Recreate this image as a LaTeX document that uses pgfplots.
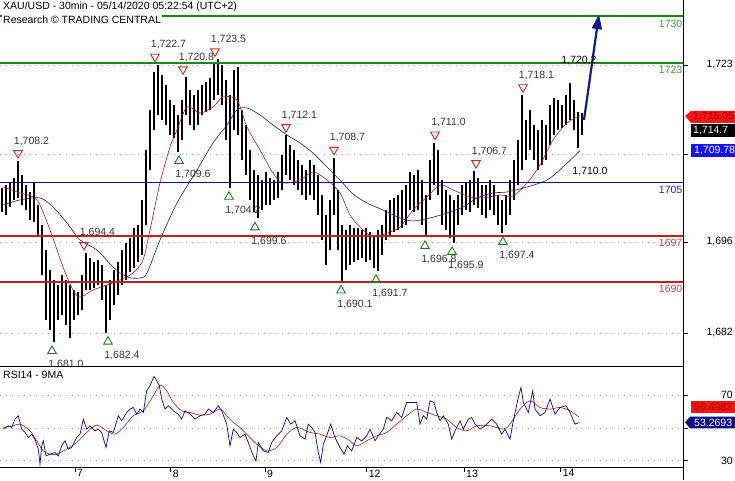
\documentclass[border=0pt]{standalone}
\usepackage{fontspec}
\setmainfont{Liberation Sans}
\usepackage{pgfplots}
\usepackage{pgfplotstable}
\pgfplotsset{compat=1.18}
\usetikzlibrary{arrows.meta}

\definecolor{lvgreen}{RGB}{20,140,20}
\definecolor{lvgreentext}{RGB}{70,150,70}
\definecolor{lvnavy}{RGB}{15,15,135}
\definecolor{lvnavytext}{RGB}{40,40,150}
\definecolor{lvred}{RGB}{185,35,35}
\definecolor{lvredtext}{RGB}{190,70,70}
\definecolor{maRed}{RGB}{170,25,25}
\definecolor{maBlue}{RGB}{25,25,125}
\definecolor{triRed}{RGB}{200,40,40}
\definecolor{triGreen}{RGB}{30,120,30}
\definecolor{tagRed}{RGB}{250,20,20}
\definecolor{tagRedText}{RGB}{150,0,0}
\definecolor{tagBlue}{RGB}{20,20,240}
\definecolor{tagNavy}{RGB}{10,10,130}
\definecolor{arrowNavy}{RGB}{15,30,130}

% 30 min bars: x in chart pixels, high / low
\pgfplotstableread{
x hi lo
2 1704.16 1700.55
6 1704.61 1700.10
10 1705.06 1701.30
14 1705.66 1702.36
18 1708.2 1702.66
22 1706.11 1701.60
26 1704.61 1700.85
30 1703.56 1699.35
34 1704.91 1699.05
38 1701.60 1697.09
42 1698.60 1691.08
46 1694.84 1684.31
50 1691.83 1682.81
54 1690.33 1681.0
58 1689.57 1684.31
62 1691.08 1685.06
66 1690.33 1683.56
70 1689.57 1681.60
74 1688.82 1684.31
78 1688.52 1685.06
82 1691.08 1685.81
86 1694.4 1688.82
90 1693.63 1688.82
94 1693.03 1689.12
98 1693.33 1689.57
102 1692.58 1687.32
106 1689.57 1682.4
110 1690.33 1684.31
114 1691.83 1686.57
118 1693.03 1688.07
122 1694.84 1689.57
126 1695.89 1690.33
130 1696.64 1691.53
134 1698.14 1692.13
138 1698.60 1693.03
142 1702.36 1694.08
146 1709.87 1698.60
150 1715.89 1706.87
154 1721.60 1712.88
158 1722.7 1715.14
162 1721.15 1714.39
166 1719.65 1713.63
170 1717.39 1712.13
174 1716.64 1711.68
178 1715.14 1709.6
182 1717.39 1711.38
186 1720.8 1715.14
190 1718.90 1713.63
194 1718.14 1712.88
198 1718.90 1713.63
202 1719.65 1715.14
206 1720.10 1715.59
210 1720.70 1715.89
214 1723.11 1717.39
218 1723.5 1718.14
222 1722.66 1716.64
226 1720.40 1711.38
230 1718.14 1704.2
234 1721.90 1712.88
238 1722.36 1712.13
242 1715.89 1708.37
246 1713.63 1706.11
250 1709.87 1702.36
254 1706.87 1700.55
258 1706.11 1699.6
262 1705.36 1700.85
266 1706.57 1701.60
270 1705.66 1701.60
274 1705.36 1702.36
278 1706.57 1702.66
282 1709.12 1703.86
286 1712.1 1706.11
290 1710.63 1705.36
294 1709.87 1704.61
298 1708.37 1703.86
302 1707.62 1703.11
306 1706.87 1702.36
310 1708.37 1703.11
314 1707.62 1702.36
318 1706.11 1700.10
322 1703.11 1696.34
326 1700.10 1692.58
330 1702.36 1694.84
334 1708.7 1700.10
338 1703.86 1694.84
342 1698.60 1690.1
346 1697.84 1691.83
350 1698.60 1692.58
354 1698.14 1693.03
358 1698.14 1693.33
362 1697.84 1693.63
366 1698.14 1693.03
370 1697.54 1693.33
374 1697.09 1692.13
378 1697.84 1691.7
382 1698.60 1694.08
386 1700.85 1696.34
390 1702.36 1697.09
394 1702.66 1697.54
398 1703.11 1697.84
402 1703.86 1698.14
406 1704.61 1698.60
410 1706.57 1700.85
414 1706.11 1700.55
418 1706.87 1700.85
422 1705.36 1698.60
426 1703.11 1696.8
430 1708.37 1702.36
434 1711.0 1704.61
438 1709.87 1703.11
442 1705.36 1698.60
446 1703.86 1697.84
450 1703.11 1696.64
454 1702.36 1695.9
458 1703.11 1698.60
462 1704.61 1700.10
466 1705.06 1700.85
470 1705.36 1700.55
474 1706.7 1701.60
478 1705.66 1701.15
482 1704.61 1700.10
486 1704.61 1699.65
490 1705.36 1700.85
494 1704.61 1700.10
498 1703.11 1698.60
502 1702.36 1697.4
506 1703.11 1698.60
510 1705.36 1700.10
514 1708.37 1702.36
518 1711.38 1704.61
522 1718.1 1706.87
526 1714.39 1708.37
530 1715.89 1709.87
534 1713.63 1708.37
538 1712.88 1706.87
542 1714.39 1707.62
546 1713.63 1708.37
550 1716.64 1710.63
554 1717.69 1712.13
558 1717.39 1712.88
562 1716.64 1713.18
566 1718.14 1713.63
570 1719.95 1714.39
574 1717.39 1712.88
578 1715.59 1710.17
582 1715.44 1712.13
}\price

\pgfplotstableread{
x y
3 1704.31
20 1703.41
37 1702.36
50 1697.84
63 1692.28
73 1688.82
80 1687.77
93 1688.82
107 1689.57
120 1690.33
133 1691.38
143 1693.33
150 1697.84
160 1704.91
170 1710.32
177 1712.88
187 1716.34
200 1715.44
213 1716.34
223 1717.84
237 1717.39
247 1713.33
260 1709.87
273 1706.41
283 1704.91
300 1705.36
313 1706.57
327 1705.36
340 1703.41
350 1700.10
360 1698.29
373 1696.79
387 1697.39
400 1698.29
413 1700.85
427 1702.81
440 1704.61
453 1703.86
470 1702.81
483 1702.66
500 1703.11
513 1702.96
527 1704.91
540 1707.62
553 1711.38
567 1713.93
580 1715.05
}\maFast

\pgfplotstableread{
x y
3 1701.60
20 1702.36
40 1702.66
53 1701.30
67 1698.90
80 1696.34
97 1694.84
113 1692.28
127 1690.78
140 1690.63
147 1691.38
160 1696.34
177 1701.90
197 1706.87
213 1710.93
227 1713.63
237 1715.89
247 1716.19
260 1715.14
273 1713.63
287 1712.13
300 1710.93
313 1709.42
327 1707.32
340 1705.36
353 1703.26
367 1701.90
383 1700.85
400 1699.65
413 1699.20
430 1699.65
447 1700.40
463 1701.30
477 1702.66
493 1703.41
507 1703.56
527 1704.31
547 1705.36
563 1707.32
580 1709.78
}\maSlow

\pgfplotstableread{
x y lab
18 1708.2 1,708.2
84 1694.4 1,694.4
155 1722.7 1,722.7
183 1720.8 1,720.8
215 1723.5 1,723.5
286 1712.1 1,712.1
334 1708.7 1,708.7
435 1711.0 1,711.0
476 1706.7 1,706.7
523 1718.1 1,718.1
}\highs

\pgfplotstableread{
x y lab
52 1681.0 1,681.0
108 1682.4 1,682.4
179 1709.6 1,709.6
229 1704.2 1,704.2
255 1699.6 1,699.6
341 1690.1 1,690.1
376 1691.7 1,691.7
425 1696.8 1,696.8
452 1695.9 1,695.9
503 1697.4 1,697.4
}\lows

\pgfplotstableread{
x y
3.3 49.25
8.3 51.29
11.7 50.27
15 55.35
18.3 57.38
21.7 49.25
25 47.22
28.3 44.17
31.7 46.20
35 43.16
38.3 37.06
40 27.91
41.7 39.09
43.3 42.14
46 33.00
50 34.01
55 35.03
58.3 33.00
61.7 39.09
65 42.14
68.3 37.06
71.7 38.07
76.7 44.17
80 46.20
83.3 55.35
86.7 49.25
90 51.29
95 48.24
98.3 49.25
101.7 47.22
106 38.07
109.3 48.24
113.3 47.22
118.3 57.38
121.7 54.33
126.7 59.42
130 61.45
133.3 62.46
136.7 58.40
140 61.45
143.3 59.42
146.7 72.63
150 75.67
154 81.37
156.7 78.72
159.3 75.67
161.7 67.55
165 61.45
168.3 63.48
173.3 60.43
178.3 58.40
181.7 55.35
185 60.43
190 58.40
195 55.35
200 57.38
205 58.40
208.3 61.45
213.3 59.42
218.3 63.48
221.7 60.43
226.7 52.30
230 39.09
233.3 49.25
236.7 47.22
240 44.17
245 46.20
248.3 41.12
253.3 33.00
256 29.94
258.3 41.12
263.3 36.04
268.3 35.03
271.7 41.12
276.7 45.19
281.7 48.24
286.7 56.37
290.7 52.30
295 54.33
300 45.19
305 43.16
308.3 52.30
311.7 50.27
315 47.22
318.3 35.03
320.7 28.93
323.3 40.11
326.7 45.19
330.7 52.30
335 44.17
340 38.07
344 34.01
347.3 39.09
351.7 36.04
356.7 44.17
361.7 42.14
366.7 45.19
370 49.25
375 42.14
378.3 45.19
383.3 49.25
386.7 56.37
391.7 54.33
396.7 59.42
401.7 56.37
406.7 65.51
411.7 65.51
416.7 65.51
420 52.30
423.3 57.38
426.7 55.35
430 66.53
434 65.51
436.7 59.42
440 54.33
443.3 57.38
448.3 52.30
451.7 43.16
455 48.24
460 54.33
463.3 49.25
468.3 55.35
471.7 56.37
475 52.30
480 49.25
485 51.29
491.7 55.35
496.7 52.30
501.7 46.20
505 49.25
510 43.16
513.3 54.33
518.3 68.56
521 74.66
523.3 65.51
528.3 59.42
532.7 72.63
535 61.45
540 57.38
545 59.42
550 67.55
555 58.40
560 62.46
566 63.48
570 59.42
575 52.30
579.3 53.27
}\rsi

\pgfplotstableread{
x y
3.3 50.27
13.3 51.29
20 52.30
30 48.24
36.7 42.14
43.3 36.04
50 34.01
56.7 34.01
66.7 37.06
76.7 41.12
86.7 47.22
96.7 51.69
106.7 48.24
115 46.20
123.3 50.27
133.3 57.38
143.3 60.43
153.3 69.58
160 76.08
166.7 72.63
173.3 65.51
181.7 60.43
190 59.42
200 57.79
210 58.40
220 61.45
226.7 57.38
233.3 53.32
240 50.27
248.3 45.19
256.7 40.11
266.7 36.04
276.7 38.07
286.7 46.00
296.7 50.27
310 47.22
320 46.20
330 44.17
340 45.19
350 42.14
356.7 39.09
366.7 42.14
376.7 45.19
386.7 47.22
396.7 52.30
406.7 57.38
416.7 61.45
426.7 59.42
436.7 57.38
446.7 55.35
456.7 50.27
466.7 48.24
476.7 51.29
490 51.29
503.3 49.25
510 52.30
520 61.45
530 66.53
540 62.46
550 61.45
560 62.46
570 60.43
579.3 56.50
}\rsima

\begin{document}
\begin{tikzpicture}[font=\fontsize{10.5}{12}\selectfont]
\useasboundingbox (0pt,0pt) rectangle (735pt,480pt);

\begin{axis}[
    name=main,
    at={(0pt,114pt)}, anchor=south west,
    width=683pt, height=366pt, scale only axis,
    xmin=0, xmax=683, ymin=1677.39, ymax=1732.43,
    axis x line*=bottom, axis y line*=right,
    axis line style={black, line width=0.8pt},
    xtick=\empty,
    ytick={1682.36,1696.04,1709.27,1722.66},
    yticklabels={{1,682},{1,696},{},{1,723}},
    tick align=outside, major tick length=5pt,
    tick style={black, line width=0.7pt},
    yticklabel style={anchor=east, inner sep=0pt, xshift=45pt},
    ymajorgrids, grid style={gray!70, line width=0.6pt, dash pattern=on 0.8pt off 5.2pt},
    tick label style={font=\fontsize{10.5}{12}\selectfont},
]
% high / low labels
\addplot[only marks, mark=triangle, mark size=5pt, draw=triRed,
    mark options={yshift=8pt, rotate=180, line width=0.9pt, draw=triRed, fill=none},
    nodes near coords, point meta=explicit symbolic,
    every node near coord/.append style={anchor=center, xshift=13.5pt, yshift=12pt, inner sep=0pt, text=black!80, font=\fontsize{10.5}{12}\selectfont}]
    table[x=x, y=y, meta=lab] {\highs};
\addplot[only marks, mark=triangle, mark size=5pt, draw=triGreen,
    mark options={yshift=-9pt, line width=0.9pt, draw=triGreen, fill=none},
    nodes near coords, point meta=explicit symbolic,
    every node near coord/.append style={anchor=center, xshift=14pt, yshift=-14pt, inner sep=0pt, text=black!80, font=\fontsize{10.5}{12}\selectfont}]
    table[x=x, y=y, meta=lab] {\lows};

% price bars
\addplot[draw=none, mark=none,
    error bars/.cd, y dir=minus, y explicit, error mark=none,
    error bar style={draw=black, line width=2.3pt}]
    table[x=x, y=hi, y error expr=\thisrow{hi}-\thisrow{lo}] {\price};

% moving averages
\addplot[maRed, line width=0.6pt, smooth, tension=0.5] table {\maFast};
\addplot[maBlue, line width=0.6pt, smooth, tension=0.5] table {\maSlow};

% key levels
\addplot[lvgreen, line width=1.6pt] coordinates {(0,1730) (683,1730)};
\addplot[lvgreen, line width=1.6pt] coordinates {(0,1723) (683,1723)};
\addplot[lvnavy, line width=1.6pt] coordinates {(0,1705) (683,1705)};
\addplot[lvred, line width=2pt] coordinates {(0,1697) (683,1697)};
\addplot[lvred, line width=2pt] coordinates {(0,1690) (683,1690)};
\node[anchor=east, inner sep=0.5pt, text=lvgreentext] at (axis cs:683,1730) [yshift=-7.5pt] {1730};
\node[anchor=east, inner sep=0.5pt, text=lvgreentext] at (axis cs:683,1723) [yshift=-7.5pt] {1723};
\node[anchor=east, inner sep=0.5pt, text=lvnavytext] at (axis cs:683,1705) [yshift=-7.5pt] {1705};
\node[anchor=east, inner sep=0.5pt, text=lvredtext] at (axis cs:683,1697) [yshift=-7pt] {1697};
\node[anchor=east, inner sep=0.5pt, text=lvredtext] at (axis cs:683,1690) [yshift=-7pt] {1690};

% projection arrow
\addplot[arrowNavy, line width=2.2pt, -{Triangle[length=15pt, width=10pt]}]
    coordinates {(584,1714.4) (599,1730.3)};
\end{axis}

\begin{axis}[
    name=rsi,
    at={(0pt,13pt)}, anchor=south west,
    width=683pt, height=101pt, scale only axis,
    axis background/.style={fill=white},
    xmin=0, xmax=683, ymin=26.2, ymax=87.7,
    axis x line*=bottom, axis y line*=right,
    axis line style={black, line width=0.8pt},
    xtick={75,170.7,265,366.7,464,560.7},
    xticklabels={7,8,9,12,13,14},
    ytick={30,50,70}, yticklabels={30,,70},
    tick align=outside, major tick length=5pt,
    tick style={black, line width=0.7pt},
    xticklabel style={anchor=north west, inner sep=0pt, xshift=2pt, yshift=2.5pt},
    yticklabel style={anchor=east, inner sep=0pt, xshift=45pt},
    ymajorgrids, grid style={gray!70, line width=0.6pt, dash pattern=on 0.8pt off 5.2pt},
    tick label style={font=\fontsize{10.5}{12}\selectfont},
]
\addplot[maRed, line width=0.6pt, smooth, tension=0.5] table {\rsima};
\addplot[tagNavy, line width=0.7pt] table {\rsi};
\end{axis}

\draw[black, line width=0.8pt] (0pt,114pt) -- (683pt,114pt);
\draw[black, line width=0.8pt] (683pt,0pt) -- (683pt,13pt);

% header
\node[anchor=west, fill=white, inner sep=1pt] at (2pt,473pt) {XAU/USD - 30min - 05/14/2020 05:22:54 (UTC+2)};
\node[anchor=west, fill=white, inner sep=1pt] at (2pt,460pt) {Research © TRADING CENTRAL};
\node[anchor=west, inner sep=0pt] at (3pt,105pt) {RSI14 - 9MA};
\node[inner sep=0pt] at (579pt,419pt) {1,720.2};
\node[inner sep=0pt] at (590pt,308pt) {1,710.0};

% price tags on the right scale
\fill[tagRed] (685pt,364pt) -- (691pt,369pt) -- (735pt,369pt) -- (735pt,357pt) -- (691pt,357pt) -- cycle;
\node[anchor=west, inner sep=0pt, text=tagRedText] at (693pt,363pt) {1,715.05};
\fill[black] (691pt,356pt) rectangle (735pt,343pt);
\node[anchor=west, inner sep=0pt, text=white] at (693pt,349.5pt) {1,714.7};
\fill[tagBlue] (691pt,336pt) rectangle (735pt,322.5pt);
\node[anchor=west, inner sep=0pt, text=white] at (694pt,329pt) {1,709.78};
\fill[tagRed] (690.7pt,79.3pt) rectangle (735pt,66.7pt);
\node[anchor=west, inner sep=0pt, text=tagRedText] at (694pt,73pt) {56.4982};
\fill[tagNavy] (685pt,57.7pt) -- (690pt,63.3pt) -- (735pt,63.3pt) -- (735pt,51.7pt) -- (690pt,51.7pt) -- cycle;
\node[anchor=west, inner sep=0pt, text=white] at (694pt,57.5pt) {53.2693};
\end{tikzpicture}
\end{document}
